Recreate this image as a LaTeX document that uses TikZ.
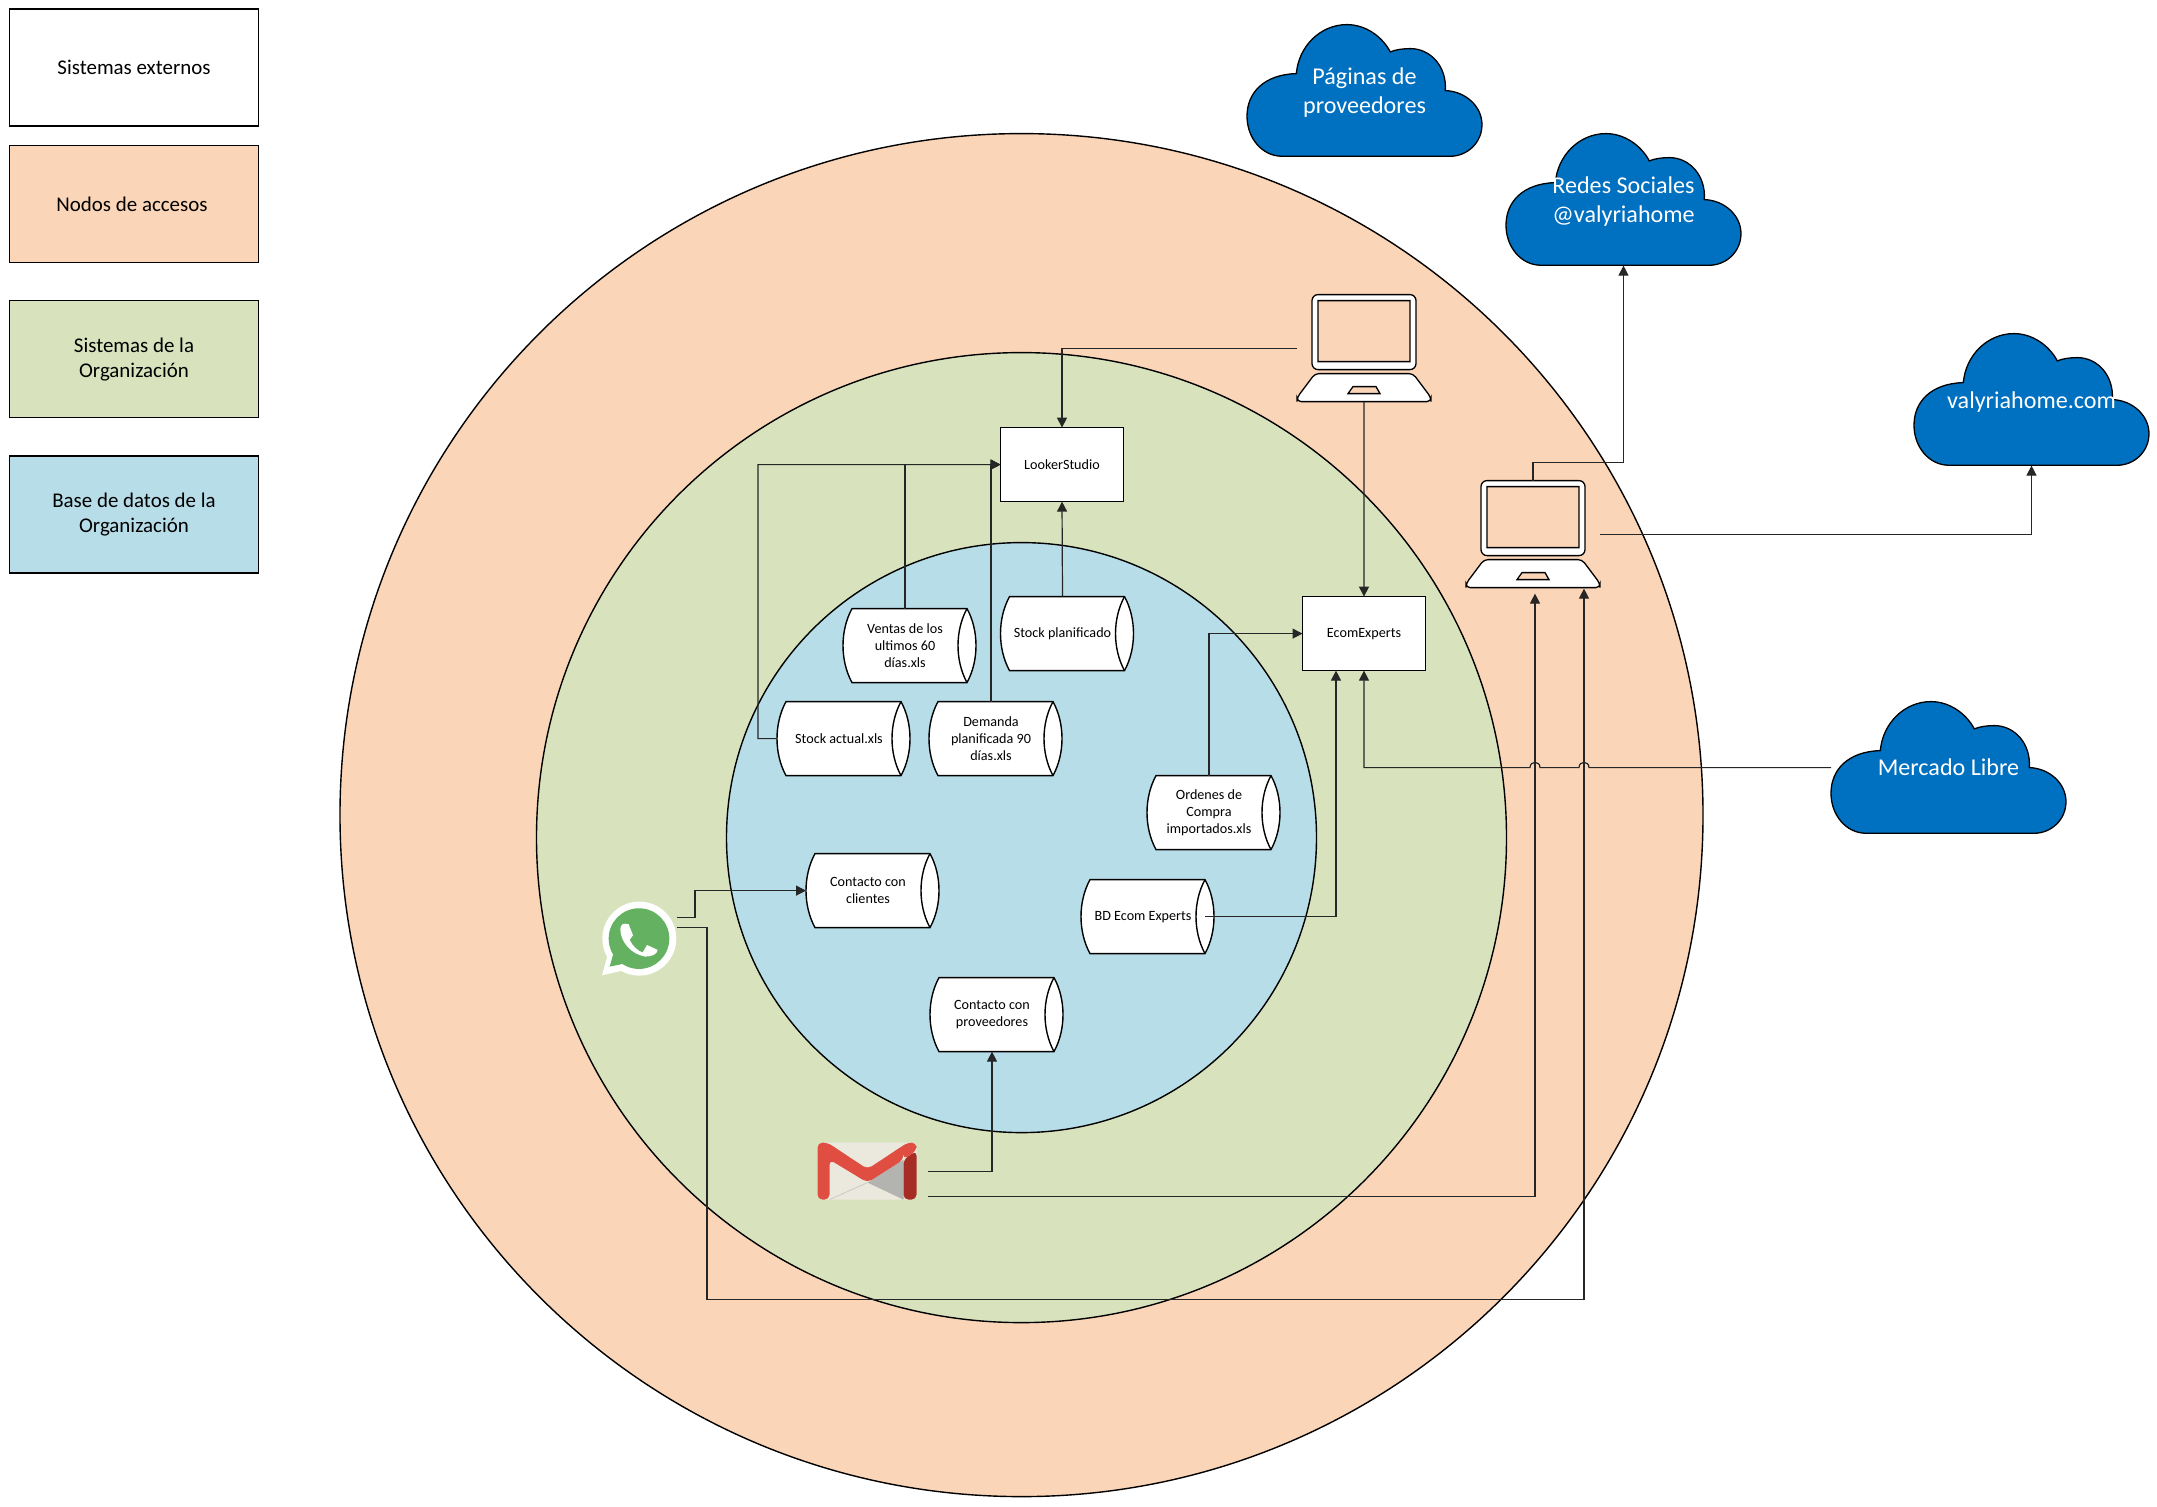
\documentclass[tikz,border=0pt]{standalone}
\usepackage{fontspec}
\setmainfont{Carlito}
\usetikzlibrary{arrows.meta}
\definecolor{orangeFill}{HTML}{FBD5B8}
\definecolor{greenFill}{HTML}{D8E3BE}
\definecolor{blueFill}{HTML}{B7DDE8}
\definecolor{cloudBlue}{HTML}{0070C0}
\definecolor{gmRed}{HTML}{E04E42}
\definecolor{gmDark}{HTML}{A52D24}
\definecolor{gmGrey}{HTML}{B3B3AF}
\definecolor{gmPaper}{HTML}{EBE9DD}
\definecolor{waGreen}{HTML}{64B161}
\newcommand{\cloudstrut}{\rule{0pt}{21bp}}
\tikzset{
  x=1bp,y=-1bp,
  ring/.style={circle,draw=black,line width=1.4bp,inner sep=0,outer sep=0},
  legendbox/.style={draw=black,line width=1.3bp,minimum width=249bp,minimum height=117bp,inner sep=0,outer sep=0,align=center,font=\fontsize{21}{25}\selectfont},
  sysbox/.style={draw=black,fill=white,line width=1.3bp,minimum width=123bp,minimum height=74bp,inner sep=0,outer sep=0,align=center,font=\fontsize{14.2}{16.7}\selectfont},
  cyltext/.style={minimum width=124bp,minimum height=74bp,inner sep=0,outer sep=0,align=center,font=\fontsize{14.2}{16.7}\selectfont},
  cloudtext/.style={minimum width=235bp,minimum height=132bp,inner sep=0,outer sep=0,align=center,text=white,font=\fontsize{24.2}{29}\selectfont},
  iconbox/.style={inner sep=0,outer sep=0},
  conn/.style={line width=1.2bp,draw=black!85},
  arr/.style={conn,-{Triangle[length=10bp,width=10bp]}}
}
% cylinder: name, x0, y0, text
\newcommand{\cylshape}[4]{%
  \begin{scope}[shift={(#2,#3)}]
    \path[draw=black,fill=white,line width=1.4bp]
      (9,0) -- (124,0) .. controls (136,22) and (136,52) .. (124,74) -- (9,74)
      .. controls (-3,52) and (-3,22) .. (9,0) -- cycle;
    \path[draw=black,line width=1.4bp] (124,0) .. controls (112,22) and (112,52) .. (124,74);
    \node[cyltext,anchor=north west] (#1) at (0,0) {#4};
  \end{scope}}
% cloud: name, x0, y0, text
\newcommand{\cloudshape}[4]{%
  \begin{scope}[shift={(#2,#3)}]
    \begin{scope}[x=0.3333bp,y=-0.3333bp]
      \path[draw=black,fill=cloudBlue,line width=1.3bp]
        (105,395) .. controls (45,395) and (0,340) .. (0,275)
        .. controls (0,205) and (50,150) .. (148,147)
        .. controls (155,65) and (220,0) .. (300,0)
        .. controls (355,0) and (405,35) .. (430,82)
        .. controls (445,75) and (470,72) .. (490,72)
        .. controls (550,72) and (600,125) .. (595,198)
        .. controls (655,200) and (705,245) .. (705,300)
        .. controls (705,355) and (660,395) .. (610,395) -- cycle;
    \end{scope}
    \node[cloudtext,anchor=north west] (#1) at (0,0) {#4};
  \end{scope}}
% laptop: name, x0, y0
\newcommand{\laptop}[3]{%
  \begin{scope}[shift={(#2,#3)}]
    \path[draw=black,fill=white,even odd rule,line width=1.3bp]
      [rounded corners=6bp] (15,0) rectangle (119,75)
      [sharp corners] (21,6) rectangle (113,67);
    \path[draw=black,fill=white,even odd rule,line width=1.3bp]
      [rounded corners=4bp] (18,79) -- (116,79) -- (134,103) -- (134,107) -- (0,107) -- (0,103) -- cycle
      [sharp corners] (56,92) -- (79,92) -- (83,99) -- (51,99) -- cycle;
    \node[iconbox,minimum width=134bp,minimum height=107bp,anchor=north west] (#1) at (0,0) {};
  \end{scope}}
\begin{document}
\begin{tikzpicture}
\useasboundingbox (0,0.4) rectangle (2157,1507.4);
\path[fill=white] (0,0.4) rectangle (2157,1507.4);

% rings
\node[ring,fill=orangeFill,minimum size=1363bp] (outer) at (1021.5,815.5) {};
\node[ring,fill=greenFill,minimum size=970bp] (middle) at (1021.5,838) {};
\node[ring,fill=blueFill,minimum size=590bp] (inner) at (1021.5,838) {};

% legend
\node[legendbox,fill=white] (l1) at (134,68) {Sistemas externos};
\node[legendbox,fill=orangeFill] (l2) at (134,204.5) {Nodos de accesos\hspace{4bp}};
\node[legendbox,fill=greenFill] (l3) at (134,359.5) {Sistemas de la\\Organización};
\node[legendbox,fill=blueFill] (l4) at (134,515) {Base de datos de la\\Organización};

% system boxes
\node[sysbox] (looker) at (1062,465) {LookerStudio};
\node[sysbox] (ecom) at (1364,634) {EcomExperts};

% data stores
\cylshape{ventas}{843}{609}{Ventas de los\\ultimos 60\\días.xls}
\cylshape{stockplan}{1000.5}{597}{Stock planificado}
\cylshape{stockact}{777}{702}{Stock actual.xls}
\cylshape{demanda}{929}{702}{Demanda\\planificada 90\\días.xls}
\cylshape{ordenes}{1147}{776}{Ordenes de\\Compra\\importados.xls}
\cylshape{bdecom}{1081}{880}{BD Ecom Experts}
\cylshape{cclientes}{806}{854}{Contacto con\\clientes}
\cylshape{cprov}{930}{978}{Contacto con\\proveedores}

% clouds
\cloudshape{paginas}{1247}{25}{\cloudstrut Páginas de\\proveedores}
\cloudshape{redes}{1506}{134}{\cloudstrut Redes Sociales\\@valyriahome}
\cloudshape{valyria}{1914}{334}{\cloudstrut valyriahome.com}
\cloudshape{mercado}{1831}{702}{Mercado Libre}

% laptops
\laptop{lapA}{1297}{295}
\laptop{lapB}{1466}{481}

% WhatsApp icon
\node[iconbox,minimum width=75bp,minimum height=74bp,anchor=north west] (wa) at (602,903) {};
\begin{scope}[shift={(602,903)},x=0.3333bp,y=-0.3333bp]
  \path[fill=white] (112,108) circle[radius=111];
  \path[fill=white] (0,218) -- (22,140) -- (80,200) -- cycle;
  \path[fill=waGreen] (111,108) circle[radius=91];
  \path[fill=waGreen] (23,192) -- (42,125) -- (92,178) -- cycle;
  \path[fill=white]
    (55,80) .. controls (55,65) and (65,60) .. (80,65)
    -- (93,98) -- (83,112)
    .. controls (92,130) and (105,143) .. (122,150)
    -- (135,127) -- (167,142)
    .. controls (165,155) and (150,162) .. (130,162)
    .. controls (85,155) and (55,115) .. (55,80) -- cycle;
\end{scope}

% Gmail icon
\node[iconbox,minimum width=99bp,minimum height=57bp,anchor=north west] (gm) at (817.5,1143) {};
\begin{scope}[shift={(817.5,1143)}]
  \path[fill=gmPaper,rounded corners=5bp] (0,0) rectangle (99,57);
  \path[fill=gmGrey] (50,40) -- (86,17) -- (86,57) -- cycle;
  \path[draw=gmGrey!70!white,line width=0.8bp] (12,57) -- (50,40);
  \path[fill=gmDark,rounded corners=5bp] (86,17) -- (99,8) -- (99,57) -- (86,57) -- cycle;
  \path[fill=gmRed,rounded corners=5bp] (0,57) -- (0,0) -- (10,0) -- (50,26.5) -- (90,0) -- (99,0) -- (99,8) -- (86,17) -- (86,17) -- (50,40) -- (12,17) -- (12,57) -- cycle;
\end{scope}

% free ends
\coordinate (waA) at (677,918);
\coordinate (waB) at (677,928);
\coordinate (gmA) at (928,1172);
\coordinate (gmB) at (928,1197);
\coordinate (lapInA) at (1535,594);
\coordinate (lapInB) at (1584,589);
\coordinate (hopA1) at (1589,768);
\coordinate (hopA2) at (1579,768);
\coordinate (hopB1) at (1540,768);
\coordinate (hopB2) at (1530,768);
\coordinate (ecomIn) at (1364,768);
\coordinate (lookerIn) at (looker.west);
\coordinate (bdIn) at (1336,671);

% connectors
\draw[arr] (lapA.west) -| (looker.north);
\draw[arr] (lapA.south) -- (ecom.north);
\draw[arr] (stockplan.north) -- (looker.south);
\draw[arr] (ventas.north) |- (lookerIn);
\draw[arr] (demanda.north) |- (lookerIn);
\draw[arr] (stockact.west) -- (758,739) |- (lookerIn);
\draw[arr] (ordenes.north) |- (ecom.west);
\draw[arr] (bdecom.east) -| (bdIn);
\draw[arr] (mercado.west) -- (hopA1) .. controls (1589,761) and (1579,761) .. (hopA2)
  -- (hopB1) .. controls (1540,761) and (1530,761) .. (hopB2) -- (ecomIn) -- (ecom.south);
\draw[arr] (lapB.north) -- ++(0,-18) -| (redes.south);
\draw[arr] (lapB.east) -| (valyria.south);
\draw[arr] (waA) -- (695,918) -- (695,891) -- (cclientes.west |- 0,891);
\draw[arr] (waB) -- (707,928) -- (707,1300) -- (1584,1300) -- (lapInB);
\draw[arr] (gmA) -| (cprov.south);
\draw[arr] (gmB) -| (lapInA);
\end{tikzpicture}
\end{document}
